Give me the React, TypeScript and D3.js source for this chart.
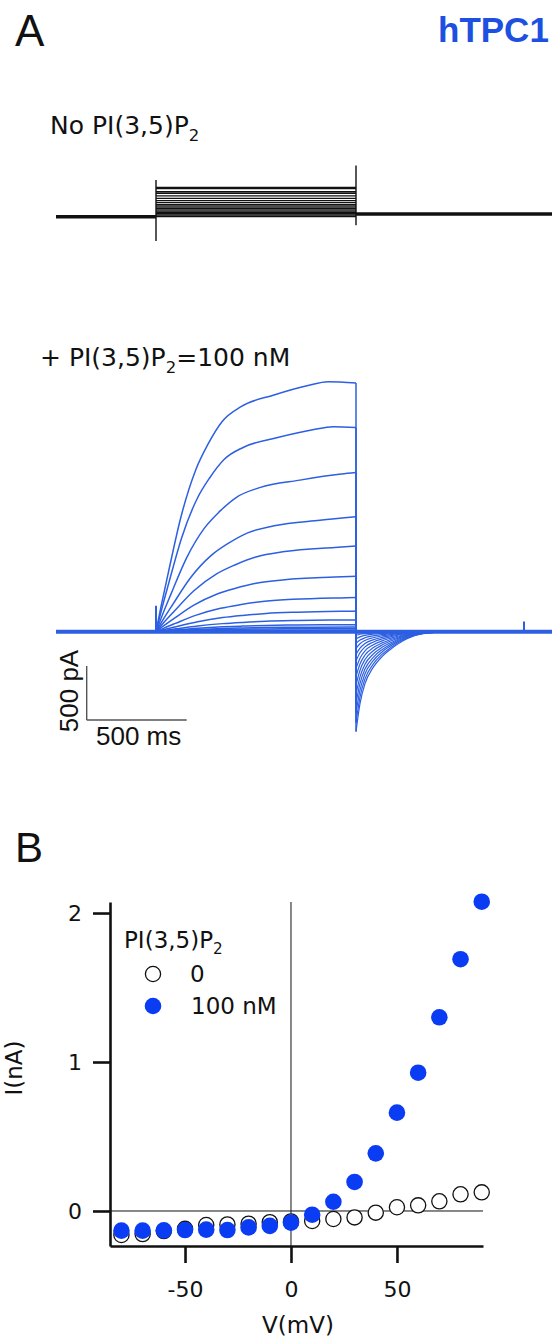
import React, { useEffect, useRef } from 'react'
import * as d3 from 'd3'

const W = 552
const H = 1338
const TRACE_BLUE = '#2c5fe2'
const DOT_BLUE = '#0a3cf4'
const TITLE_BLUE = '#1d50e0'
const SANS = '"DejaVu Sans", Verdana, sans-serif'
const HELV = '"Liberation Sans", Arial, sans-serif'

// ---- panel A, no PI(3,5)P2: step levels (pA)
const noPipLevels = [266, 231, 217, 192, 170, 148, 130, 113, 100, 88, 76, 64, 52, 40, 28, 18, 8, 0]
const noPipSpikes = [{ t: 0, hi: 340, lo: -225 }, { t: 1000, hi: 475, lo: -80 }]
const noPipAfter = 25 // baseline sits a little higher after the step

// ---- panel A, 100 nM: plateau, tail peak and rise speed of each blue trace
const pipLevels = [2315, 1898, 1482, 1090, 824, 534, 333, 201, 115, 69, 46, 31, 16, 6, 0, 0]
const pipTails = [-925, -840, -750, -665, -580, -495, -415, -340, -270, -210, -155, -108, -66, -33, -12, 0]
const pipRise = [1, 0.97, 0.82, 0.72, 0.66, 0.66, 0.62, 0.6, 0.6, 0.6, 0.6, 0.6, 0.6, 0.6, 0.6, 0.6]
const pipSpikes = [{ t: 0, hi: 240, lo: 0 }, { t: 1840, hi: 95, lo: 0 }]

// time course of the biggest trace (fraction of its plateau / of its tail peak)
const actTime = [0, 25, 60, 125, 200, 260, 330, 425, 590, 760, 860, 1000]
const actFrac = [0, 0.1, 0.23, 0.46, 0.65, 0.75, 0.84, 0.9, 0.947, 0.985, 1, 0.995]
const tailTime = [0, 20, 45, 85, 130, 170, 255, 335, 470]
const tailFrac = [1, 0.72, 0.52, 0.36, 0.25, 0.18, 0.07, 0.02, 0]

// ---- panel B: I-V
const voltages = [-80, -70, -60, -50, -40, -30, -20, -10, 0, 10, 20, 30, 40, 50, 60, 70, 80, 90]
const iZero = [-0.161, -0.155, -0.135, -0.12, -0.094, -0.09, -0.085, -0.075, -0.07, -0.067, -0.054, -0.043, -0.011, 0.025, 0.038, 0.065, 0.112, 0.125]
const i100 = [-0.132, -0.132, -0.13, -0.128, -0.125, -0.128, -0.11, -0.1, -0.078, -0.025, 0.062, 0.195, 0.387, 0.66, 0.928, 1.3, 1.69, 2.076]
const xTicks = [-50, 0, 50]
const yTicks = [0, 1, 2]

const addPI = (sel: any, prefix: string, suffix: string, size: number) => {
  sel.append('tspan').text(prefix + 'PI(3,5)P')
  sel.append('tspan').text('2').attr('font-size', size * 0.66).attr('dy', size * 0.28)
  if (suffix) sel.append('tspan').text(suffix).attr('dy', -size * 0.28)
}

export default function App() {
  const ref = useRef<SVGSVGElement>(null)

  useEffect(() => {
    const svg = d3.select(ref.current)
    svg.selectAll('*').remove()

    // ---------- panel A
    svg.append('text').text('A').attr('x', 15).attr('y', 46)
      .attr('font-family', HELV).attr('font-size', 44).attr('fill', '#111')
    svg.append('text').text('hTPC1').attr('x', 438).attr('y', 42)
      .attr('font-family', HELV).attr('font-weight', 'bold').attr('font-size', 35).attr('fill', TITLE_BLUE)

    const t = d3.scaleLinear().domain([0, 1000]).range([156, 356])
    const tStart = -500
    const tEnd = 2000

    // black traces
    const yBlack = d3.scaleLinear().domain([0, 500]).range([216.7, 162.7])
    const lab1 = svg.append('text').attr('x', 50).attr('y', 134)
      .attr('font-family', SANS).attr('font-size', 25).attr('fill', '#111')
    addPI(lab1, 'No ', '', 25)

    const gB = svg.append('g').attr('fill', 'none').attr('stroke', '#111')
    const flat = d3.line<[number, number]>().x(d => t(d[0])).y(d => yBlack(d[1]))
    gB.append('path').attr('d', flat([[tStart, 0], [0, 0]])).attr('stroke-width', 3.5)
    gB.append('path').attr('d', flat([[1000, noPipAfter], [tEnd, noPipAfter]])).attr('stroke-width', 3.5)
    noPipLevels.forEach((lv, i) => {
      gB.append('path').attr('d', flat([[0, lv], [1000, lv]]))
        .attr('stroke-width', i === 0 ? 2.4 : i < 3 ? 1.6 : 1.2)
    })
    noPipSpikes.forEach(s => {
      gB.append('path').attr('d', flat([[s.t, s.lo], [s.t, s.hi]])).attr('stroke-width', 1.4)
    })

    // blue traces
    const yBlue = d3.scaleLinear().domain([0, 500]).range([631.7, 577.7])
    const lab2 = svg.append('text').attr('x', 40).attr('y', 366)
      .attr('font-family', SANS).attr('font-size', 25).attr('fill', '#111')
    addPI(lab2, '+ ', '=100 nM', 25)

    const act = d3.scaleLinear().domain(actTime).range(actFrac).clamp(true)
    const smooth = d3.line<[number, number]>().x(d => t(d[0])).y(d => yBlue(d[1])).curve(d3.curveMonotoneX)
    const straight = d3.line<[number, number]>().x(d => t(d[0])).y(d => yBlue(d[1]))
    const gP = svg.append('g').attr('fill', 'none').attr('stroke', TRACE_BLUE).attr('stroke-width', 1.5)
    gP.append('path').attr('d', straight([[tStart, 0], [tEnd, 0]])).attr('stroke-width', 4)
    pipLevels.forEach((lv, i) => {
      const k = pipRise[i]
      const rise: [number, number][] = actTime
        .map((tt, j) => [tt / k, lv * actFrac[j]] as [number, number])
        .filter(d => d[0] < 1000)
      const end = lv * act(1000 * k)
      rise.push([1000, end])
      gP.append('path').attr('d', smooth(rise))
      const tail: [number, number][] = tailTime.map((tt, j) => [1000 + tt, pipTails[i] * tailFrac[j]])
      tail.push([tEnd, 0])
      gP.append('path').attr('d', straight([[1000, end], [1000, pipTails[i]]]))
      gP.append('path').attr('d', smooth(tail)).attr('stroke-width', 1.2)
    })
    pipSpikes.forEach(s => {
      gP.append('path').attr('d', straight([[s.t, s.lo], [s.t, s.hi]])).attr('stroke-width', 2)
    })

    // scale bar
    const sx = 86.7
    const sy = 720
    const barH = yBlue(0) - yBlue(500)
    const barW = t(500) - t(0)
    const gS = svg.append('g').attr('stroke', '#555').attr('stroke-width', 1.4).attr('fill', 'none')
    gS.append('line').attr('x1', sx).attr('x2', sx).attr('y1', sy).attr('y2', sy - barH)
    gS.append('line').attr('x1', sx).attr('x2', sx + barW).attr('y1', sy).attr('y2', sy)
    svg.append('text').text('500 ms').attr('x', 96).attr('y', 745)
      .attr('font-family', HELV).attr('font-size', 26).attr('fill', '#111')
    svg.append('text').text('500 pA').attr('transform', 'translate(78,691) rotate(-90)')
      .attr('text-anchor', 'middle')
      .attr('font-family', HELV).attr('font-size', 26).attr('fill', '#111')

    // ---------- panel B
    svg.append('text').text('B').attr('x', 15).attr('y', 862)
      .attr('font-family', HELV).attr('font-size', 42).attr('fill', '#111')

    const x = d3.scaleLinear().domain([-85.4, 90.6]).range([110, 483])
    const y = d3.scaleLinear().domain([-0.235, 2.074]).range([1246, 902])

    const thin = svg.append('g').attr('stroke', '#111').attr('stroke-width', 1)
    thin.append('line').attr('x1', x(-85.4)).attr('x2', x(90.6)).attr('y1', y(0)).attr('y2', y(0))
    thin.append('line').attr('x1', x(0)).attr('x2', x(0)).attr('y1', y(-0.235)).attr('y2', y(2.074))

    const xAxis = svg.append('g').attr('transform', 'translate(0,1246)')
      .call(d3.axisBottom(x).tickValues(xTicks).tickSize(17).tickSizeOuter(0).tickPadding(18)
        .tickFormat(d => String(d)))
    const yAxis = svg.append('g').attr('transform', 'translate(110,0)')
      .call(d3.axisLeft(y).tickValues(yTicks).tickSize(17).tickSizeOuter(0).tickPadding(11)
        .tickFormat(d => String(d)))
    ;[xAxis, yAxis].forEach(a => {
      a.selectAll('path,line').attr('stroke', '#111').attr('stroke-width', 2.6)
      a.selectAll('text').attr('font-family', SANS).attr('font-size', 22).attr('fill', '#111')
    })

    svg.append('text').text('V(mV)').attr('x', 298).attr('y', 1333).attr('text-anchor', 'middle')
      .attr('font-family', SANS).attr('font-size', 23).attr('fill', '#111')
    svg.append('text').text('I(nA)').attr('transform', 'translate(22,1068) rotate(-90)')
      .attr('text-anchor', 'middle')
      .attr('font-family', SANS).attr('font-size', 23).attr('fill', '#111')

    svg.append('g').selectAll('circle').data(voltages).join('circle')
      .attr('cx', d => x(d)).attr('cy', (d, i) => y(iZero[i])).attr('r', 7.6)
      .attr('fill', 'white').attr('stroke', '#111').attr('stroke-width', 1.3)
    svg.append('g').selectAll('circle').data(voltages).join('circle')
      .attr('cx', d => x(d)).attr('cy', (d, i) => y(i100[i])).attr('r', 8.3)
      .attr('fill', DOT_BLUE)

    // legend
    const lt = svg.append('text').attr('x', 124).attr('y', 948)
      .attr('font-family', SANS).attr('font-size', 23).attr('fill', '#111')
    addPI(lt, '', '', 23)
    svg.append('circle').attr('cx', 153).attr('cy', 974).attr('r', 7.6)
      .attr('fill', 'white').attr('stroke', '#111').attr('stroke-width', 1.3)
    svg.append('text').text('0').attr('x', 190).attr('y', 982)
      .attr('font-family', SANS).attr('font-size', 23).attr('fill', '#111')
    svg.append('circle').attr('cx', 153).attr('cy', 1006).attr('r', 8.3).attr('fill', DOT_BLUE)
    svg.append('text').text('100 nM').attr('x', 191).attr('y', 1014)
      .attr('font-family', SANS).attr('font-size', 23).attr('fill', '#111')
  }, [])

  return (
    <div style={{ position: 'absolute', left: 0, top: 0, width: W, height: H, background: '#fff' }}>
      <svg ref={ref} width={W} height={H} style={{ display: 'block', overflow: 'hidden' }} />
    </div>
  )
}
